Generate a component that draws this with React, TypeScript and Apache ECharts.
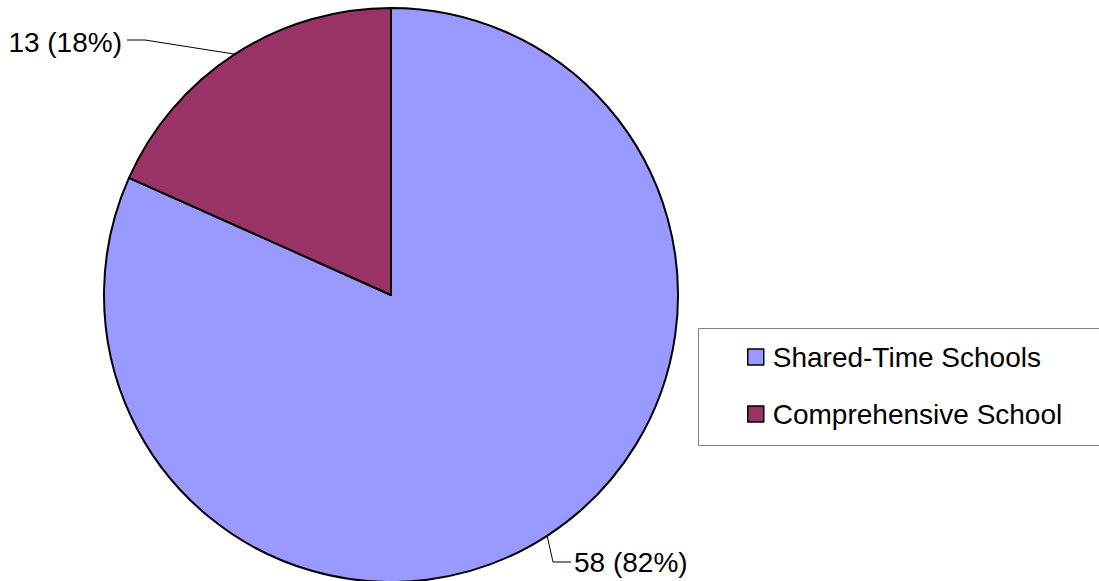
import React, { useEffect, useRef } from "react";
import * as echarts from "echarts";

const categories = ["Shared-Time Schools", "Comprehensive School"];
const values = [58, 13];
const colors = ["#9999FF", "#993366"];

const FONT = 'Arial, "Liberation Sans", sans-serif';

export default function App() {
  const ref = useRef<HTMLDivElement>(null);
  useEffect(() => {
    document.body.style.margin = "0";
    const chart = echarts.init(ref.current!, null, { renderer: "svg" });
    const total = values.reduce((a, b) => a + b, 0);
    chart.setOption({
      animation: false,
      backgroundColor: "#ffffff",
      graphic: [
        {
          type: "rect",
          shape: { x: 698.5, y: 328.5, width: 420, height: 117 },
          style: { fill: "#ffffff", stroke: "#808080", lineWidth: 1 },
          z: 0,
        },
      ],
      legend: {
        orient: "vertical",
        left: 742,
        top: 337,
        itemWidth: 16,
        itemHeight: 16,
        itemGap: 27,
        icon: "rect",
        itemStyle: { borderColor: "#000", borderWidth: 1.5 },
        textStyle: { fontFamily: FONT, fontSize: 28, lineHeight: 30, color: "#000", padding: [0, 0, 0, 4] },
        data: categories,
        z: 5,
      },
      series: [
        {
          type: "pie",
          center: [391, 295],
          radius: 287,
          startAngle: 90,
          clockwise: true,
          data: categories.map((c, i) => ({
            name: c,
            value: values[i],
            itemStyle: { color: colors[i] },
          })),
          itemStyle: { borderColor: "#000", borderWidth: 2 },
          label: {
            show: true,
            fontFamily: FONT,
            fontSize: 28,
            color: "#000",
            formatter: (p: any) => `${p.value} (${Math.round((p.value / total) * 100)}%)`,
          },
          labelLine: { show: true, lineStyle: { color: "#000", width: 1 } },
          labelLayout: (params: any) => {
            const p0 = params.labelLinePoints ? params.labelLinePoints[0] : null;
            if (params.dataIndex === 1) {
              const start = p0 || [235, 54];
              return {
                x: 122,
                y: 42,
                align: "right",
                verticalAlign: "middle",
                labelLinePoints: [start, [145, 40], [127, 40]],
              };
            }
            const start = p0 || [545, 537];
            return {
              x: 574,
              y: 562,
              align: "left",
              verticalAlign: "middle",
              labelLinePoints: [start, [553, 562], [571, 562]],
            };
          },
        },
      ],
    });
    return () => chart.dispose();
  }, []);
  return <div ref={ref} style={{ width: 1099, height: 581 }} />;
}
